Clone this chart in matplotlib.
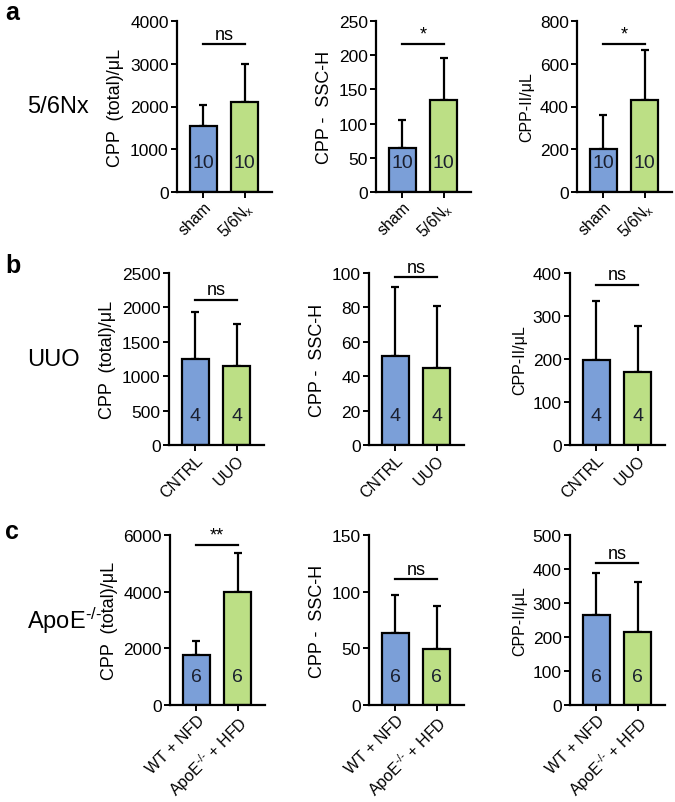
import matplotlib
matplotlib.use('Agg')
import matplotlib.pyplot as plt
import matplotlib.transforms as mtransforms

plt.rcParams['font.family'] = ['Liberation Sans', 'DejaVu Sans']
plt.rcParams['mathtext.fontset'] = 'custom'
plt.rcParams['mathtext.rm'] = 'Liberation Sans'
plt.rcParams['mathtext.it'] = 'Liberation Sans'

# groups per row
groups_a = ['sham', '5/6N$_\\mathrm{x}$']
groups_b = ['CNTRL', 'UUO']
groups_c = ['WT + NFD', 'ApoE$^{\\text{-/-}}$ + HFD']
row_names = ['5/6Nx', 'UUO', 'ApoE$^{\\text{-/-}}$']
n_per_row = [10, 4, 6]

# means and upper error (SD)
total_mean = [[1550, 2095], [1250, 1150], [1770, 3975]]
total_err = [[480, 890], [685, 610], [495, 1385]]
ssc_mean = [[65, 134], [51.5, 44.7], [63.5, 49.5]]
ssc_err = [[40, 62], [40.5, 36.3], [33.5, 37.5]]
ii_mean = [[200, 431], [197, 169], [265, 216]]
ii_err = [[162, 231], [139, 107], [124, 147]]

# y axis top / tick step
ytops = [[4000, 250, 800], [2500, 100, 400], [6000, 150, 500]]
ysteps = [[1000, 50, 200], [500, 20, 100], [2000, 50, 100]]

# significance marks and bar heights
sig_text = [['ns', '*', '*'], ['ns', 'ns', 'ns'], ['**', 'ns', 'ns']]
sig_y = [[3460, 216, 692], [2112, 97.5, 373], [5650, 111, 417]]

ylabels = ['CPP  (total)/\u03bcL', 'CPP -  SSC-H', 'CPP-II/\u03bcL']

blue = '#7b9fd8'
green = '#bcdf85'

W, H = 675, 803
fig = plt.figure(figsize=(W / 100, H / 100), dpi=100)

# axes placement in pixels
lefts = [[177, 376, 577], [169, 369, 570], [170, 369, 570]]
tops = [22, 274, 536]
bottoms = [193, 446, 706]
ax_w = 95

groups = [groups_a, groups_b, groups_c]
means = [total_mean, ssc_mean, ii_mean]
errs = [total_err, ssc_err, ii_err]

for r in range(3):
    for c in range(3):
        l = lefts[r][c]
        ax = fig.add_axes([l / W, 1 - bottoms[r] / H, ax_w / W,
                           (bottoms[r] - tops[r]) / H])
        x = [0, 1]
        m = means[c][r]
        e = errs[c][r]
        ax.errorbar(x, m, yerr=[[0, 0], e], fmt='none', ecolor='black',
                    elinewidth=1.6, capsize=3, capthick=1.6, zorder=1)
        ax.bar(x, m, width=0.66, color=[blue, green], edgecolor='black',
               linewidth=1.6, zorder=2)
        ax.set_xlim(-0.646, 1.67)
        ax.set_ylim(0, ytops[r][c])
        ax.set_yticks(range(0, ytops[r][c] + 1, ysteps[r][c]))
        ax.set_xticks(x)
        ax.set_xticklabels(groups[r], rotation=45, ha='right',
                           rotation_mode='anchor', fontsize=11.5)
        ax.tick_params(axis='both', length=4, width=1.4, pad=2)
        ax.tick_params(axis='x', pad=1)
        ax.tick_params(axis='y', labelsize=12.5)
        for s in ['top', 'right']:
            ax.spines[s].set_visible(False)
        for s in ['left', 'bottom']:
            ax.spines[s].set_linewidth(1.6)
        ax.set_ylabel(ylabels[c], fontsize=13 if c < 2 else 11.5, labelpad=4)

        trans = mtransforms.blended_transform_factory(ax.transData, ax.transAxes)
        for xi in x:
            ax.text(xi, 0.17, str(n_per_row[r]), transform=trans,
                    ha='center', va='center', fontsize=14, color='#1a1f2e')

        # significance bar
        ax.plot([0, 1], [sig_y[r][c], sig_y[r][c]], color='black', lw=1.6,
                clip_on=False)
        ax.annotate(sig_text[r][c], (0.5, sig_y[r][c]), xytext=(0, 1),
                    textcoords='offset points', ha='center', va='bottom',
                    fontsize=13, annotation_clip=False)

# row labels and panel letters
row_y = [107, 360, 621]
for r in range(3):
    fig.text(27 / W, 1 - row_y[r] / H, row_names[r], fontsize=17,
             ha='left', va='center')
letters = ['a', 'b', 'c']
letter_y = [13, 266, 532]
for r in range(3):
    fig.text(5 / W, 1 - letter_y[r] / H, letters[r], fontsize=18,
             fontweight='bold', ha='left', va='center')

fig.savefig('out.png', dpi=100)
